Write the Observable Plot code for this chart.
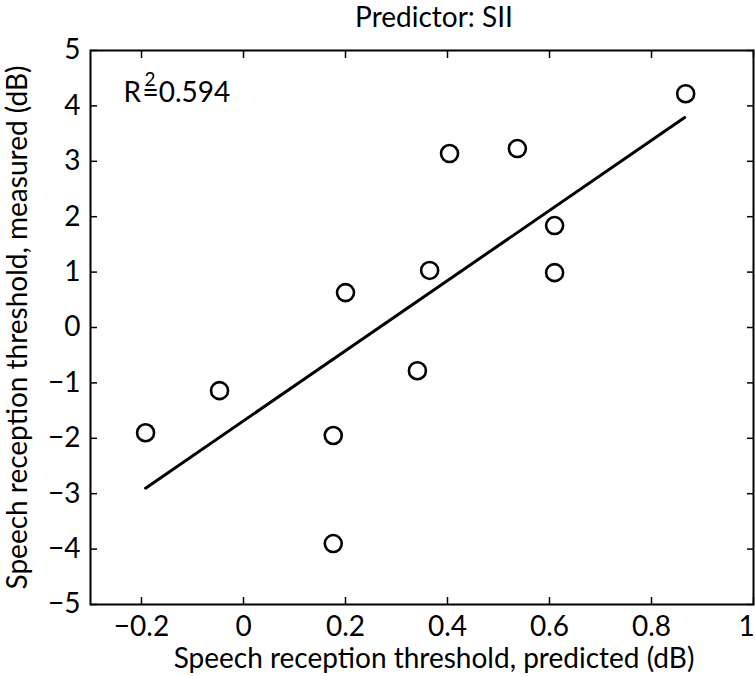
<!DOCTYPE html>
<html>
<head>
<meta charset="utf-8">
<script src="https://cdn.jsdelivr.net/npm/d3@7"></script>
<script src="https://cdn.jsdelivr.net/npm/@observablehq/plot@0.6"></script>
<style>
  html, body { margin: 0; padding: 0; background: #fff; }
  #chart svg { display: block; }
</style>
</head>
<body>
<div id="chart"></div>
<script>
// Data
const predicted = [-0.192, -0.047, 0.176, 0.176, 0.2, 0.341, 0.365, 0.404, 0.537, 0.61, 0.61, 0.867];
const measured  = [-1.9, -1.14, -1.95, -3.9, 0.63, -0.78, 1.03, 3.14, 3.23, 1.84, 0.99, 4.22];
const fitX = [-0.192, 0.865];
const fitY = [-2.9, 3.79];
const xTicks = [-0.2, 0, 0.2, 0.4, 0.6, 0.8, 1];
const yTicks = [-5, -4, -3, -2, -1, 0, 1, 2, 3, 4, 5];
const titleText = "Predictor: SII";
const xLabel = "Speech reception threshold, predicted (dB)";
const yLabel = "Speech reception threshold, measured (dB)";
const r2Value = "=0.594";

const points = predicted.map((x, i) => ({x, y: measured[i]}));
const fit = fitX.map((x, i) => ({x, y: fitY[i]}));
const fmt = d => d < 0 ? "\u2212" + Math.abs(d) : String(d);
const lastX = xTicks[xTicks.length - 1];

const FONT = "Lato, 'Open Sans', sans-serif";
const FS = 28;

const chart = Plot.plot({
  width: 755,
  height: 676,
  marginLeft: 90,
  marginRight: 2,
  marginTop: 50,
  marginBottom: 72,
  style: {fontFamily: FONT, fontSize: FS + "px", color: "black", background: "white"},
  x: {domain: [-0.3, 1]},
  y: {domain: [-5, 5]},
  marks: [
    Plot.axisX(xTicks, {anchor: "bottom", tickSize: -7, tickPadding: 19, tickFormat: d => d === lastX ? "" : fmt(d), label: null, fontSize: FS, strokeWidth: 1.5}),
    Plot.axisX([lastX], {anchor: "bottom", tickSize: 0, tickPadding: 12, dx: -7, tickFormat: fmt, label: null, fontSize: FS}),
    Plot.axisX(xTicks, {anchor: "top", tickSize: -7, tickFormat: () => "", label: null, strokeWidth: 1.5}),
    Plot.axisY(yTicks, {anchor: "left", tickSize: -7, tickPadding: 17, tickFormat: fmt, label: null, fontSize: FS, strokeWidth: 1.5}),
    Plot.axisY(yTicks, {anchor: "right", tickSize: -7, tickFormat: () => "", label: null, strokeWidth: 1.5}),
    Plot.frame({stroke: "black", strokeWidth: 2}),
    Plot.line(fit, {x: "x", y: "y", stroke: "black", strokeWidth: 3}),
    Plot.dot(points, {x: "x", y: "y", r: 8.5, stroke: "black", strokeWidth: 2.6, fill: "none"}),
    Plot.text([titleText], {frameAnchor: "top", dx: 12, dy: -43, lineAnchor: "top", textAnchor: "middle", fontSize: FS, fill: "black"}),
    Plot.text([xLabel], {frameAnchor: "bottom", dx: 12, dy: 44, lineAnchor: "top", textAnchor: "middle", fontSize: FS, fill: "black"}),
    Plot.text([yLabel], {frameAnchor: "left", dx: -83, rotate: -90, lineAnchor: "top", textAnchor: "middle", fontSize: FS, fill: "black"}),
    Plot.text(["R"], {frameAnchor: "top-left", dx: 33, dy: 32, textAnchor: "start", lineAnchor: "top", fontSize: FS, fill: "black"}),
    Plot.text(["2"], {frameAnchor: "top-left", dx: 54, dy: 22, textAnchor: "start", lineAnchor: "top", fontSize: 19, fill: "black"}),
    Plot.text([r2Value], {frameAnchor: "top-left", dx: 52, dy: 32, textAnchor: "start", lineAnchor: "top", fontSize: FS, fill: "black"})
  ]
});
document.getElementById("chart").appendChild(chart);
</script>
</body>
</html>
